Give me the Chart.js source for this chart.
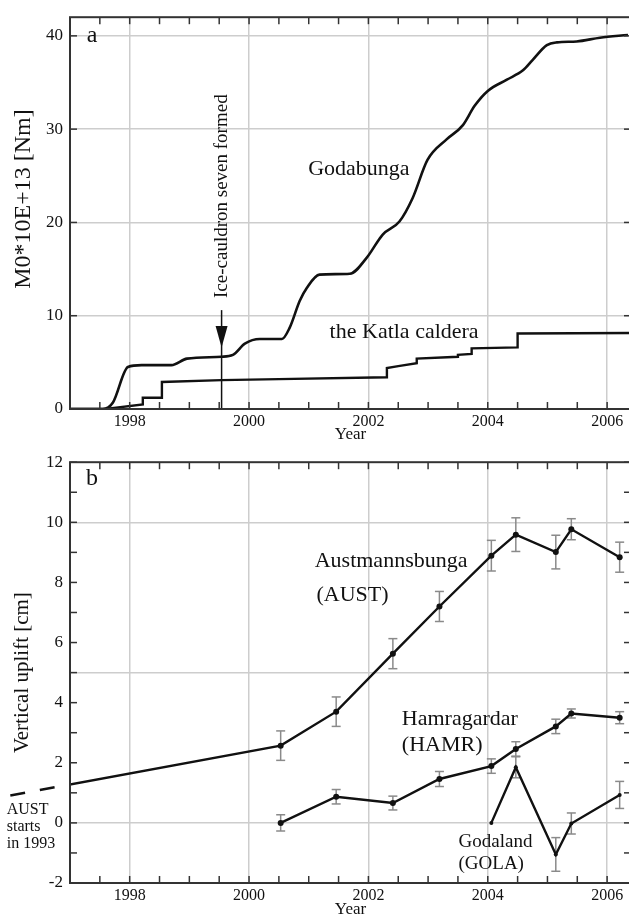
<!DOCTYPE html>
<html>
<head>
<meta charset="utf-8">
<script src="https://cdn.jsdelivr.net/npm/chart.js@4.4.0/dist/chart.umd.min.js"></script>
<style>
  html, body { margin: 0; padding: 0; background: #fff; overflow: hidden; }
  #wrap { position: relative; width: 629px; height: 921px; overflow: hidden; }
  canvas { position: absolute; left: 0; }
  #momentChart { top: 0; }
  #upliftChart { top: 445px; }
</style>
</head>
<body>
<div id="wrap">
  <canvas id="momentChart" width="640" height="445"></canvas>
  <canvas id="upliftChart" width="640" height="476"></canvas>
</div>
<script>
// panel a: cumulative seismic moment (M0 * 10E+13 Nm)
const godaYears = [1997.0, 1997.55, 1997.72, 1997.97, 1998.2, 1998.7, 1998.96, 1999.54, 1999.73, 1999.93,
  2000.18, 2000.55, 2000.68, 2000.85, 2000.97, 2001.18, 2001.69, 2001.97, 2002.24, 2002.52,
  2002.74, 2002.99, 2003.31, 2003.58, 2003.78, 2004.0, 2004.32, 2004.59, 2004.75, 2004.99,
  2005.16, 2005.49, 2005.88, 2006.35];
const godaMoment = [0, 0, 0.7, 4.5, 4.7, 4.7, 5.4, 5.6, 5.8, 7.0,
  7.5, 7.5, 8.7, 11.6, 13.0, 14.4, 14.5, 16.2, 18.7, 20.1,
  22.6, 26.7, 28.9, 30.4, 32.5, 34.1, 35.3, 36.3, 37.4, 39.0,
  39.3, 39.4, 39.8, 40.1];

const katlaYears = [1997.0, 1997.6, 1998.22, 1998.22, 1998.54, 1998.54, 1999.54, 2000.5, 2002.31, 2002.31,
  2002.5, 2002.81, 2002.81, 2003.5, 2003.5, 2003.73, 2003.73, 2004.5, 2004.5, 2006.4];
const katlaMoment = [0, 0, 0.5, 1.2, 1.2, 2.9, 3.1, 3.2, 3.4, 4.4,
  4.6, 4.9, 5.4, 5.6, 5.8, 5.9, 6.5, 6.6, 8.1, 8.15];

// ice-cauldron seven formed
const cauldronYear = 1999.54;
const arrowTop = 10.6;
const arrowBase = 8.9;
const arrowTip = 6.6;

// panel b: GPS vertical uplift (cm)
const gpsYears = [2000.53, 2001.46, 2002.41, 2003.19, 2004.06, 2004.47, 2005.14, 2005.40, 2006.21];

const austYears = [1993.5, ...gpsYears];
const austUplift = [0, 2.57, 3.70, 5.63, 7.20, 8.89, 9.59, 9.01, 9.77, 8.84];
const austError = [0, 0.49, 0.49, 0.5, 0.5, 0.51, 0.56, 0.56, 0.35, 0.5];

const hamrUplift = [0, 0.87, 0.66, 1.46, 1.89, 2.46, 3.21, 3.64, 3.50];
const hamrError = [0.27, 0.24, 0.23, 0.25, 0.24, 0.24, 0.24, 0.15, 0.2];

const golaYears = [2004.06, 2004.47, 2005.14, 2005.40, 2006.21];
const golaUplift = [0, 1.85, -1.05, -0.02, 0.93];
const golaError = [0, 0.35, 0.56, 0.35, 0.45];

// dashed lead-in drawn left of the axis (AUST started in 1993)
const leadInFrom = 1996.0;
const leadInTo = 1996.75;

const SERIF = '"Liberation Serif", "Times New Roman", serif';
const INK = '#111';
const GRID = '#cdcdcd';

const pts = (xs, ys) => xs.map((x, i) => ({ x, y: ys[i] }));

function line(ctx, x1, y1, x2, y2) {
  ctx.beginPath();
  ctx.moveTo(x1, y1);
  ctx.lineTo(x2, y2);
  ctx.stroke();
}

// frame with inward ticks on all four sides
const frameTicks = {
  id: 'frameTicks',
  afterDraw(chart) {
    const { ctx, chartArea: a, scales: { x, y } } = chart;
    const len = 7;
    ctx.save();
    ctx.strokeStyle = '#333';
    ctx.lineWidth = 1.5;
    x.ticks.forEach(t => {
      const px = x.getPixelForValue(t.value);
      line(ctx, px, a.bottom, px, a.bottom - len);
      line(ctx, px, a.top, px, a.top + len);
    });
    y.ticks.forEach(t => {
      const py = y.getPixelForValue(t.value);
      line(ctx, a.left, py, a.left + len, py);
      line(ctx, a.right, py, a.right - len, py);
    });
    ctx.lineWidth = 2;
    ctx.strokeRect(a.left, a.top, a.right - a.left, a.bottom - a.top);
    ctx.restore();
  }
};

const errorBars = {
  id: 'errorBars',
  beforeDatasetsDraw(chart) {
    const { ctx, scales: { x, y } } = chart;
    ctx.save();
    ctx.strokeStyle = '#8a8a8a';
    ctx.lineWidth = 1.5;
    chart.data.datasets.forEach(ds => {
      if (!ds.errors) return;
      ds.data.forEach((p, i) => {
        const e = ds.errors[i];
        if (!e) return;
        const px = x.getPixelForValue(p.x);
        const top = y.getPixelForValue(p.y + e);
        const bot = y.getPixelForValue(p.y - e);
        line(ctx, px, top, px, bot);
        line(ctx, px - 4.5, top, px + 4.5, top);
        line(ctx, px - 4.5, bot, px + 4.5, bot);
      });
    });
    ctx.restore();
  }
};

function makeNotes(items) {
  return {
    id: 'notes',
    afterDraw(chart) {
      const { ctx, scales: { x, y } } = chart;
      items.forEach(n => {
        ctx.save();
        ctx.fillStyle = INK;
        ctx.font = `${n.size}px ${SERIF}`;
        ctx.textAlign = n.align || 'left';
        ctx.textBaseline = n.baseline || 'middle';
        ctx.translate(x.getPixelForValue(n.x), y.getPixelForValue(n.y));
        if (n.rotate) ctx.rotate(n.rotate);
        ctx.fillText(n.text, 0, 0);
        ctx.restore();
      });
    }
  };
}

const cauldronArrow = {
  id: 'cauldronArrow',
  afterDatasetsDraw(chart) {
    const { ctx, scales: { x, y } } = chart;
    const px = x.getPixelForValue(cauldronYear);
    ctx.save();
    ctx.strokeStyle = '#111';
    ctx.fillStyle = '#111';
    ctx.lineWidth = 1.5;
    line(ctx, px, y.getPixelForValue(arrowTop), px, y.getPixelForValue(0));
    const tip = y.getPixelForValue(arrowTip);
    const base = y.getPixelForValue(arrowBase);
    ctx.beginPath();
    ctx.moveTo(px - 6, base);
    ctx.lineTo(px + 6, base);
    ctx.lineTo(px, tip);
    ctx.closePath();
    ctx.fill();
    ctx.restore();
  }
};

const austLeadIn = {
  id: 'austLeadIn',
  afterDraw(chart) {
    const { ctx, scales: { x, y } } = chart;
    const x0 = austYears[0], x1 = austYears[1];
    const y0 = austUplift[0], y1 = austUplift[1];
    const at = t => y0 + (y1 - y0) * (t - x0) / (x1 - x0);
    ctx.save();
    ctx.setLineDash([15, 15]);
    ctx.lineWidth = 2.5;
    ctx.strokeStyle = '#111';
    line(ctx, x.getPixelForValue(leadInFrom), y.getPixelForValue(at(leadInFrom)),
      x.getPixelForValue(leadInTo), y.getPixelForValue(at(leadInTo)));
    ctx.restore();
  }
};

function yearAxis(height, titlePad) {
  return {
    type: 'linear',
    min: 1997,
    max: 2006.4,
    afterFit: s => { s.height = height; },
    border: { display: false },
    grid: {
      color: c => (c.tick && c.tick.value % 2 === 0) ? GRID : 'transparent',
      lineWidth: 1.5,
      drawTicks: false
    },
    ticks: {
      stepSize: 0.5,
      includeBounds: false,
      autoSkip: false,
      maxRotation: 0,
      padding: 3,
      color: INK,
      font: { family: SERIF, size: 16 },
      callback: v => v % 2 === 0 ? String(v) : ''
    },
    title: {
      display: true,
      text: 'Year',
      color: INK,
      font: { family: SERIF, size: 17 },
      padding: { top: 0, bottom: titlePad }
    }
  };
}

const baseOptions = {
  responsive: false,
  animation: false,
  events: [],
  plugins: { legend: { display: false }, tooltip: { enabled: false } }
};

new Chart(document.getElementById('momentChart'), {
  type: 'line',
  data: {
    datasets: [{
      label: 'Godabunga',
      data: pts(godaYears, godaMoment),
      borderColor: '#111',
      borderWidth: 2.6,
      pointRadius: 0,
      cubicInterpolationMode: 'monotone'
    }, {
      label: 'the Katla caldera',
      data: pts(katlaYears, katlaMoment),
      borderColor: '#111',
      borderWidth: 2.4,
      pointRadius: 0,
      tension: 0
    }]
  },
  options: {
    ...baseOptions,
    layout: { padding: { top: 14, right: 9, left: 0, bottom: 0 } },
    scales: {
      x: yearAxis(36, 0),
      y: {
        min: 0,
        max: 42,
        afterFit: s => { s.width = 70; },
        border: { display: false },
        grid: {
          color: c => (c.tick && c.tick.value > 0) ? GRID : 'transparent',
          lineWidth: 1.5,
          drawTicks: false
        },
        ticks: {
          stepSize: 10,
          includeBounds: false,
          padding: 7,
          color: INK,
          font: { family: SERIF, size: 17 }
        }
      }
    }
  },
  plugins: [frameTicks, cauldronArrow, makeNotes([
    { text: 'M0*10E+13 [Nm]', x: 1996.23, y: 22.5, size: 24, align: 'center', rotate: -Math.PI / 2 },
    { text: 'a', x: 1997.28, y: 39.35, size: 24, baseline: 'alphabetic' },
    { text: 'Godabunga', x: 2000.99, y: 25.7, size: 22 },
    { text: 'the Katla caldera', x: 2001.35, y: 8.2, size: 22 },
    { text: 'Ice-cauldron seven formed', x: cauldronYear, y: 11.9, size: 19, rotate: -Math.PI / 2 }
  ])]
});

new Chart(document.getElementById('upliftChart'), {
  type: 'line',
  data: {
    datasets: [{
      label: 'AUST',
      data: pts(austYears, austUplift),
      errors: austError,
      borderColor: '#111',
      borderWidth: 2.4,
      pointRadius: 3,
      pointBorderWidth: 0,
      pointBackgroundColor: '#111',
      tension: 0
    }, {
      label: 'HAMR',
      data: pts(gpsYears, hamrUplift),
      errors: hamrError,
      borderColor: '#111',
      borderWidth: 2.4,
      pointRadius: 3,
      pointBorderWidth: 0,
      pointBackgroundColor: '#111',
      tension: 0
    }, {
      label: 'GOLA',
      data: pts(golaYears, golaUplift),
      errors: golaError,
      borderColor: '#111',
      borderWidth: 2.4,
      pointRadius: 2,
      pointBorderWidth: 0,
      pointBackgroundColor: '#111',
      tension: 0
    }]
  },
  options: {
    ...baseOptions,
    layout: { padding: { top: 7, right: 9, left: 0, bottom: 0 } },
    scales: {
      x: yearAxis(38, 1),
      y: {
        min: -2,
        max: 12,
        afterFit: s => { s.width = 70; },
        border: { display: false },
        grid: {
          color: c => (c.tick && [0, 5, 10].includes(c.tick.value)) ? GRID : 'transparent',
          lineWidth: 1.5,
          drawTicks: false
        },
        ticks: {
          stepSize: 1,
          includeBounds: false,
          autoSkip: false,
          padding: 7,
          color: INK,
          font: { family: SERIF, size: 17 },
          callback: v => v % 2 === 0 ? String(v) : ''
        },
        title: {
          display: true,
          text: 'Vertical uplift [cm]',
          color: INK,
          font: { family: SERIF, size: 21 },
          padding: { top: 10 }
        }
      }
    }
  },
  plugins: [errorBars, frameTicks, austLeadIn, makeNotes([
    { text: 'b', x: 1997.27, y: 11.24, size: 24, baseline: 'alphabetic' },
    { text: 'Austmannsbunga', x: 2001.10, y: 8.70, size: 22 },
    { text: '(AUST)', x: 2001.13, y: 7.57, size: 22 },
    { text: 'Hamragardar', x: 2002.56, y: 3.44, size: 22 },
    { text: '(HAMR)', x: 2002.56, y: 2.57, size: 22 },
    { text: 'Godaland', x: 2003.51, y: -0.65, size: 19 },
    { text: '(GOLA)', x: 2003.51, y: -1.36, size: 19 },
    { text: 'AUST', x: 1995.94, y: 0.45, size: 16 },
    { text: 'starts', x: 1995.94, y: -0.13, size: 16 },
    { text: 'in 1993', x: 1995.94, y: -0.71, size: 16 }
  ])]
});
</script>
</body>
</html>
